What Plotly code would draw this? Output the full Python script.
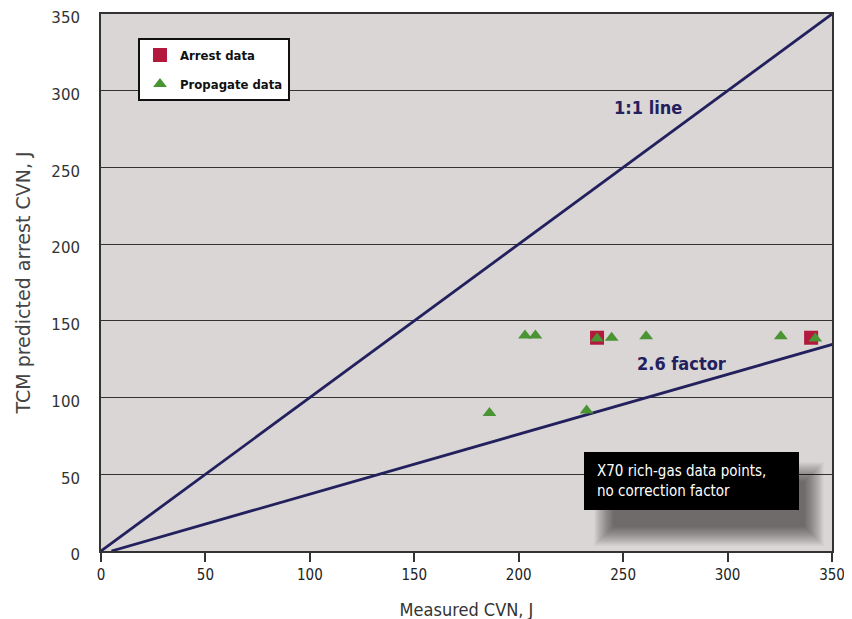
import plotly.graph_objects as go

# Data
arrest_x = [237.5, 340]
arrest_y = [139, 139]
prop_x = [186, 203, 208, 232.5, 237.5, 244.5, 261, 325.5, 342]
prop_y = [90, 140.5, 140.5, 91.5, 138.5, 139, 140, 140, 138.5]
line11_x = [0, 350]
line11_y = [0, 350]
factor_x = [5, 352]
factor_y = [0, 135.4]
tick_vals = [0, 50, 100, 150, 200, 250, 300, 350]

NARROW = "Liberation Sans Narrow, DejaVu Sans Condensed, Arial Narrow, sans-serif"
WIDE = "DejaVu Sans, Verdana, sans-serif"
NAVY = "#23205e"

# pixel helpers for the note box (page plot area: x 101..832, y 14..551)
def px2x(p):
    return (p - 101) * 350 / 731

def px2y(p):
    return (551 - p) * 350 / 537

fig = go.Figure()
fig.add_trace(go.Scatter(x=line11_x, y=line11_y, mode="lines",
                         line=dict(color=NAVY, width=2.8), showlegend=False, hoverinfo="skip"))
fig.add_trace(go.Scatter(x=factor_x, y=factor_y, mode="lines",
                         line=dict(color=NAVY, width=2.8), showlegend=False, hoverinfo="skip"))
fig.add_trace(go.Scatter(x=arrest_x, y=arrest_y, mode="markers", name="<b>Arrest data</b>",
                         legendgroup="a",
                         marker=dict(symbol="square", size=14, color="#b3183d")))
fig.add_trace(go.Scatter(x=prop_x, y=prop_y, mode="markers", name="<b>Propagate data</b>",
                         legendgroup="b",
                         marker=dict(symbol="triangle-up", size=12, color="#4a9433")))

# soft shadow behind the black note box
N = 22
for i in range(N):
    d = 0.9 * (N - i)
    fig.add_shape(type="rect", xref="x", yref="y",
                  x0=px2x(614 - d), x1=px2x(804 + d), y0=px2y(526 + d), y1=px2y(482 - d),
                  fillcolor="black", opacity=0.026, line=dict(width=0), layer="above")
fig.add_shape(type="rect", xref="x", yref="y", x0=px2x(584), x1=px2x(799),
              y0=px2y(510), y1=px2y(452),
              fillcolor="black", line=dict(width=0), layer="above")
fig.add_annotation(x=px2x(595), y=px2y(481), xref="x", yref="y", xanchor="left", yanchor="middle",
                   text="X70 rich-gas data points,<br>no correction factor", showarrow=False,
                   align="left", font=dict(family=NARROW, size=15, color="white"))
fig.add_annotation(x=261.9, y=288.8, text="<b>1:1 line</b>", showarrow=False,
                   font=dict(family=NARROW, size=18, color=NAVY))
fig.add_annotation(x=278, y=121.9, text="<b>2.6 factor</b>", showarrow=False,
                   font=dict(family=NARROW, size=18, color=NAVY))

fig.update_layout(
    width=852, height=619,
    margin=dict(l=93, r=28, t=6, b=76),
    paper_bgcolor="white", plot_bgcolor="#dad6d5",
    showlegend=True,
    legend=dict(x=0.0506, y=0.955, xanchor="left", yanchor="top",
                bgcolor="white", bordercolor="#111", borderwidth=2,
                font=dict(family=NARROW, size=13, color="#111"),
                traceorder="grouped", tracegroupgap=9, itemwidth=30),
    xaxis=dict(range=[0, 350], tickvals=tick_vals, showgrid=False, zeroline=False,
               showline=True, linecolor="#333", linewidth=2, mirror=True, automargin=False,
               ticks="outside", ticklen=9, tickwidth=1.5, tickcolor="#333",
               ticklabeloverflow="allow",
               tickfont=dict(family=NARROW, size=15, color="#222"),
               title=dict(text="Measured CVN, J", font=dict(family=NARROW, size=18, color="#333"), standoff=20)),
    yaxis=dict(range=[0, 350], tickvals=tick_vals, showgrid=True, gridcolor="#333", gridwidth=1.2,
               zeroline=False, showline=True, linecolor="#333", linewidth=2, mirror=True, automargin=False,
               ticks="outside", ticklen=16, tickcolor="rgba(0,0,0,0)",
               ticklabeloverflow="allow", ticklabelshift=4,
               tickfont=dict(family=WIDE, size=15, color="#333"),
               title=dict(text="TCM predicted arrest CVN, J", font=dict(family=WIDE, size=19, color="#444"), standoff=16)),
)
fig.write_html("out.html")
